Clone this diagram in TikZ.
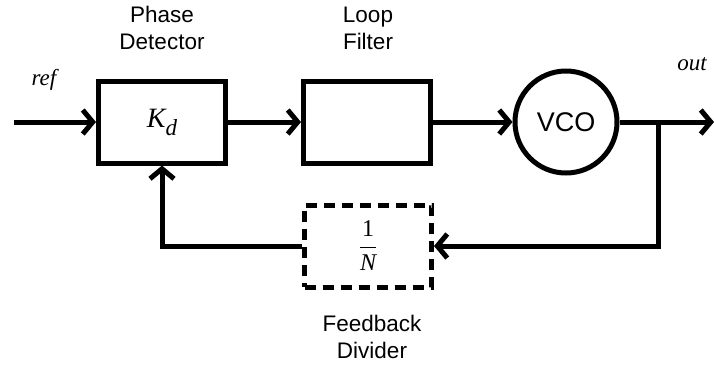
\documentclass[tikz,border=0pt]{standalone}
\usepackage{amsmath}
\usepackage{fontspec}
\setmainfont{Liberation Serif}
\setsansfont{Liberation Sans}
\usetikzlibrary{arrows.meta,positioning}

\begin{document}
\begin{tikzpicture}[x=1pt,y=-1pt,
  blk/.style={draw,line width=5pt,minimum width=127pt,minimum height=82pt,inner sep=0pt},
  dsh/.style={blk,dash pattern=on 11pt off 7pt},
  vco/.style={circle,draw,line width=5pt,minimum size=102pt,inner sep=0pt,
    font=\sffamily\fontsize{27}{27}\selectfont},
  lbl/.style={font=\sffamily\fontsize{22.5}{27}\selectfont,align=center},
  sig/.style={font=\rmfamily\itshape\fontsize{23}{23}\selectfont},
  ar/.style={line width=5pt,-{Straight Barb[length=10pt,width=24pt,line width=5pt]}},
]
\useasboundingbox (0,0) rectangle (714,368);
% forward path
\coordinate (in) at (14,122);
\node[blk] (pd) at (162,122) {\rmfamily\itshape\fontsize{28}{28}\selectfont K\raisebox{-8pt}{\fontsize{23}{23}\selectfont d}};
\node[blk] (lf) at (367,122) {};
\node[vco] (osc) at (566,122) {VCO};
\coordinate (br) at (658,122);
\coordinate (outp) at (714,122);
\draw[ar] (in) -- (pd);
\draw[ar] (pd) -- (lf);
\draw[ar] (lf) -- (osc);
\draw[ar] (osc) -- (outp);

% feedback path
\node[dsh] (fd) at (368,246) {\rmfamily\fontsize{24}{24}\selectfont
  $\dfrac{\text{1}}{\text{\itshape N}}$};
\draw[ar] (br) |- (fd);
\draw[ar] (fd) -| (pd);

% labels
\node[lbl] (pdl) at (162,28) {Phase\\Detector};
\node[lbl] (lfl) at (368,28) {Loop\\Filter};
\node[lbl] (fdl) at (372,337) {Feedback\\Divider};
\node[sig] (refl) at (44,80) {ref};
\node[sig] (outl) at (692,64) {out};
\end{tikzpicture}
\end{document}
